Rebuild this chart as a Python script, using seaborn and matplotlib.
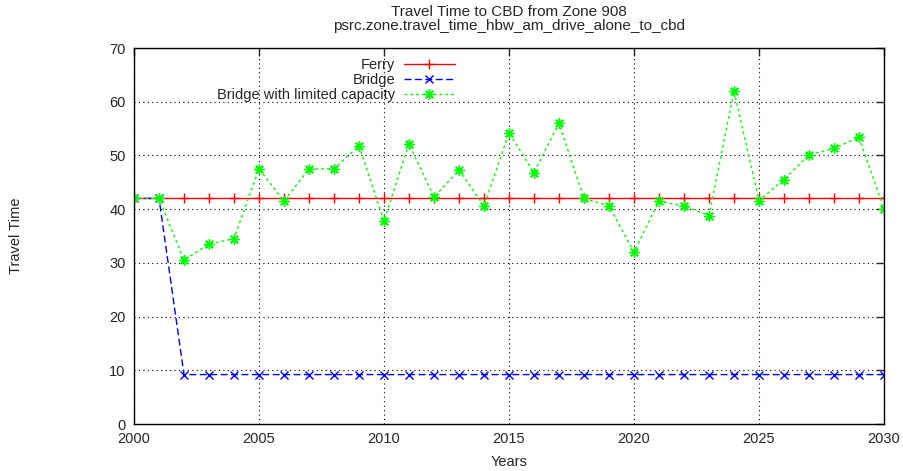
import numpy as np
import pandas as pd
import matplotlib
matplotlib.use("Agg")
import matplotlib.pyplot as plt
import seaborn as sns

# values
years = list(range(2000, 2031))
ferry = [42.0] * 31
bridge = [42.0, 42.0] + [9.2] * 29
bridge_limited = [42.0, 42.0, 30.5, 33.5, 34.5, 47.5, 41.5, 47.5, 47.5, 51.8,
                  37.8, 52.2, 42.2, 47.3, 40.6, 54.2, 46.8, 56.0, 42.0, 40.6,
                  32.0, 41.5, 40.6, 38.8, 62.0, 41.6, 45.5, 50.1, 51.3, 53.4,
                  40.0]
series_names = ["Ferry", "Bridge", "Bridge with limited capacity"]

wide = pd.DataFrame({"Years": years, series_names[0]: ferry,
                     series_names[1]: bridge, series_names[2]: bridge_limited})
df = wide.melt(id_vars="Years", var_name="series", value_name="Travel Time")

palette = {series_names[0]: "#ff0000", series_names[1]: "#0000ff",
           series_names[2]: "#00ff00"}
markers = {series_names[0]: "+", series_names[1]: "x",
           series_names[2]: (8, 2, 0)}
dashes = {series_names[0]: "", series_names[1]: (5, 2.5),
          series_names[2]: (2, 2.2)}
msizes = {series_names[0]: 6.5, series_names[1]: 6, series_names[2]: 7.5}

sns.set_style("white")
plt.rcParams['font.family'] = ['Liberation Sans', 'DejaVu Sans']

fig = plt.figure(figsize=(9.04, 4.71), dpi=100)
ax = fig.add_axes([134 / 904, 1 - 424 / 471, 750 / 904, 376 / 471])

sns.lineplot(data=df, x="Years", y="Travel Time", hue="series",
             style="series", hue_order=series_names, style_order=series_names,
             palette=palette, markers=markers, dashes=dashes, ax=ax,
             linewidth=1, markersize=7, markeredgewidth=1,
             markeredgecolor=None, sort=False)

ax.set_xlim(2000, 2030)
ax.set_ylim(0, 70)
ax.set_xticks(range(2000, 2031, 5))
ax.set_yticks(range(0, 71, 10))
ax.grid(True, color="black", linestyle=(0, (1, 3)), linewidth=0.8)
ax.set_axisbelow(True)
ax.tick_params(direction="in", length=6, top=True, right=True,
               labelsize=10.5, pad=6, width=1)
for s in ax.spines.values():
    s.set_color("black")
    s.set_linewidth(1)

ax.set_xlabel("Years", fontsize=10.5, labelpad=6)
ax.set_ylabel("Travel Time", fontsize=10.5, labelpad=62)
ax.set_title("Travel Time to CBD from Zone 908\npsrc.zone.travel_time_hbw_am_drive_alone_to_cbd",
             fontsize=11, pad=13, linespacing=0.95)

for line, name in zip(ax.get_lines(), series_names):
    line.set_markeredgecolor(line.get_color())
    line.set_markersize(msizes[name])

handles, labels = ax.get_legend_handles_labels()
for h in handles:
    h.set_markeredgecolor(h.get_color())
    h.set_markersize(msizes[h.get_label()])
leg = ax.legend(handles, labels, loc="upper left",
                bbox_to_anchor=(0.103, 0.988), frameon=False,
                markerfirst=False, fontsize=10.5, handlelength=3.5,
                labelspacing=0.05, handletextpad=0.6, borderaxespad=0)
leg._legend_box.align = "right"
for vp in leg._legend_handle_box.get_children():
    vp.align = "right"

fig.savefig("out.png", dpi=100)
